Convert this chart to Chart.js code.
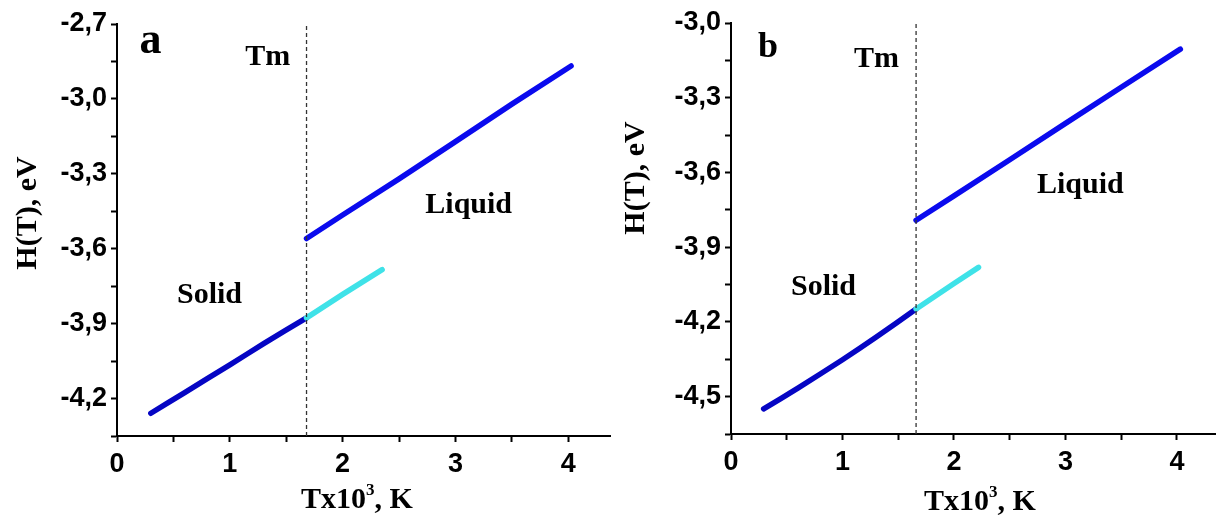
<!DOCTYPE html>
<html>
<head>
<meta charset="utf-8">
<script src="https://cdn.jsdelivr.net/npm/chart.js@4.4.1/dist/chart.umd.min.js"></script>
<style>
  body { margin: 0; background: #fff; }
  #wrap { position: relative; width: 1216px; height: 518px; overflow: hidden; }
  canvas { position: absolute; top: 0; }
</style>
</head>
<body>
<div id="wrap">
  <canvas id="panelA" width="612" height="518" style="left:0px"></canvas>
  <canvas id="panelB" width="604" height="518" style="left:612px"></canvas>
</div>
<script>
// temperatures in 10^3 K, enthalpy in eV
const tempSolidA = [0.30, 0.60, 1.00, 1.30, 1.68];
const enthSolidA = [-4.259, -4.176, -4.065, -3.980, -3.877];
const tempSuperA = [1.68, 2.00, 2.35];
const enthSuperA = [-3.877, -3.783, -3.684];
const tempLiquidA = [1.68, 2.00, 2.50, 3.00, 3.50, 4.025];
const enthLiquidA = [-3.559, -3.465, -3.320, -3.171, -3.021, -2.868];

const tempSolidB = [0.293, 0.60, 1.00, 1.30, 1.66];
const enthSolidB = [-4.549, -4.466, -4.352, -4.262, -4.148];
const tempSuperB = [1.66, 2.00, 2.22];
const enthSuperB = [-4.148, -4.046, -3.981];
const tempLiquidB = [1.66, 2.00, 2.50, 3.00, 3.50, 4.03];
const enthLiquidB = [-3.792, -3.694, -3.549, -3.403, -3.258, -3.105];

const meltTemp = [1.68, 1.66];            // Tm for panel a, b
const yRangeA = [-4.35, -2.7];
const yRangeB = [-4.65, -3.0];
const xRangeA = [0, 4.37];
const xRangeB = [0, 4.35];
const xTickLabels = ['0', '1', '2', '3', '4'];
const yTickLabelsA = ['-2,7', '-3,0', '-3,3', '-3,6', '-3,9', '-4,2'];
const yTickLabelsB = ['-3,0', '-3,3', '-3,6', '-3,9', '-4,2', '-4,5'];

const SERIF = '"Liberation Serif", "Times New Roman", serif';
const SANS = '"Liberation Sans", Arial, sans-serif';

function pts(xs, ys) {
  return xs.map((x, i) => ({x: x, y: ys[i]}));
}

// texts inside the panel + axis titles
const panelText = {
  id: 'panelText',
  afterDraw(chart, args, o) {
    const ctx = chart.ctx;
    const xs = chart.scales.x, ys = chart.scales.y;
    ctx.save();
    ctx.fillStyle = '#000';
    ctx.textBaseline = 'alphabetic';
    ctx.textAlign = 'left';
    o.labels.forEach(l => {
      ctx.font = 'bold ' + l.size + 'px ' + SERIF;
      ctx.fillText(l.text, xs.getPixelForValue(l.x), ys.getPixelForValue(l.y));
    });

    // y title
    ctx.font = 'bold 30px ' + SERIF;
    ctx.translate(o.yTitle[0], o.yTitle[1]);
    ctx.rotate(-Math.PI / 2);
    ctx.textAlign = 'center';
    ctx.textBaseline = 'middle';
    ctx.fillText('H(T), eV', 0, 0);
    ctx.restore();

    // x title with superscript
    ctx.save();
    ctx.fillStyle = '#000';
    ctx.textBaseline = 'alphabetic';
    const a = 'Tx10', b = ', K';
    ctx.font = 'bold 30px ' + SERIF;
    const wa = ctx.measureText(a).width, wb = ctx.measureText(b).width;
    ctx.font = 'bold 17px ' + SERIF;
    const ws = ctx.measureText('3').width;
    const x0 = o.xTitle[0] - (wa + ws + wb) / 2;
    const yb = o.xTitle[1];
    ctx.font = 'bold 30px ' + SERIF;
    ctx.fillText(a, x0, yb);
    ctx.font = 'bold 17px ' + SERIF;
    ctx.fillText('3', x0 + wa, yb - 13);
    ctx.font = 'bold 30px ' + SERIF;
    ctx.fillText(b, x0 + wa + ws, yb);
    ctx.restore();
  }
};

function makePanel(id, d) {
  const ctx = document.getElementById(id).getContext('2d');
  return new Chart(ctx, {
    type: 'scatter',
    data: {
      datasets: [
        {
          data: pts([d.tm, d.tm], d.yRange),
          showLine: true, borderColor: '#333', borderWidth: 1.3,
          borderDash: [4, 3], pointRadius: 0, clip: false
        },
        {
          data: d.superPts, showLine: true, borderColor: '#3fe2e8',
          borderWidth: 5.5, borderCapStyle: 'round', pointRadius: 0, tension: 0
        },
        {
          data: d.solidPts, showLine: true, borderColor: '#0505c4',
          borderWidth: 5.5, borderCapStyle: 'round', pointRadius: 0, tension: 0.2
        },
        {
          data: d.liquidPts, showLine: true, borderColor: '#0a0aee',
          borderWidth: 5.5, borderCapStyle: 'round', pointRadius: 0, tension: 0
        }
      ]
    },
    options: {
      responsive: false,
      animation: false,
      layout: { padding: { top: d.top, right: d.right, bottom: 0, left: 0 } },
      plugins: {
        legend: { display: false },
        tooltip: { enabled: false },
        panelText: d.text
      },
      scales: {
        x: {
          type: 'linear',
          min: d.xRange[0], max: d.xRange[1],
          afterFit(s) { s.height = d.xH; },
          grid: { drawOnChartArea: false, drawTicks: true, tickLength: 6, tickWidth: 2, tickColor: '#000' },
          border: { display: true, color: '#000', width: 2 },
          ticks: {
            stepSize: 0.5, includeBounds: false, padding: 6, color: '#000',
            autoSkip: false, maxRotation: 0,
            font: { family: SANS, size: 27, weight: 'bold' },
            callback(v) {
              const s = String(Math.round(v));
              return Math.abs(v - Math.round(v)) < 1e-6 && xTickLabels.includes(s) ? s : '';
            }
          }
        },
        y: {
          type: 'linear',
          min: d.yRange[0], max: d.yRange[1],
          afterFit(s) { s.width = d.yW; },
          grid: { drawOnChartArea: false, drawTicks: true, tickLength: 6, tickWidth: 2, tickColor: '#000' },
          border: { display: true, color: '#000', width: 2 },
          ticks: {
            stepSize: 0.15, includeBounds: false, padding: 4, color: '#000', autoSkip: false,
            font: { family: SANS, size: 27, weight: 'bold' },
            callback(v) {
              const s = v.toFixed(1).replace('.', ',');
              return Math.abs(v * 10 - Math.round(v * 10)) < 1e-6 && d.yLabels.includes(s) ? s : '';
            }
          }
        }
      }
    },
    plugins: [panelText]
  });
}

makePanel('panelA', {
  tm: meltTemp[0], yRange: yRangeA, xRange: xRangeA, yLabels: yTickLabelsA,
  solidPts: pts(tempSolidA, enthSolidA),
  superPts: pts(tempSuperA, enthSuperA),
  liquidPts: pts(tempLiquidA, enthLiquidA),
  top: 24, right: 2, xH: 82, yW: 117,
  text: {
    labels: [
      {text: 'a', x: 0.20, y: -2.816, size: 44},
      {text: 'Tm', x: 1.136, y: -2.864, size: 30},
      {text: 'Solid', x: 0.532, y: -3.819, size: 30},
      {text: 'Liquid', x: 2.733, y: -3.458, size: 30}
    ],
    yTitle: [28, 213],
    xTitle: [357, 508]
  }
});

makePanel('panelB', {
  tm: meltTemp[1], yRange: yRangeB, xRange: xRangeB, yLabels: yTickLabelsB,
  solidPts: pts(tempSolidB, enthSolidB),
  superPts: pts(tempSuperB, enthSuperB),
  liquidPts: pts(tempLiquidB, enthLiquidB),
  top: 23, right: 0, xH: 84, yW: 119,
  text: {
    labels: [
      {text: 'b', x: 0.242, y: -3.136, size: 36},
      {text: 'Tm', x: 1.103, y: -3.176, size: 30},
      {text: 'Solid', x: 0.538, y: -4.091, size: 30},
      {text: 'Liquid', x: 2.744, y: -3.682, size: 30}
    ],
    yTitle: [24, 178],
    xTitle: [980 - 612, 510]
  }
});
</script>
</body>
</html>
